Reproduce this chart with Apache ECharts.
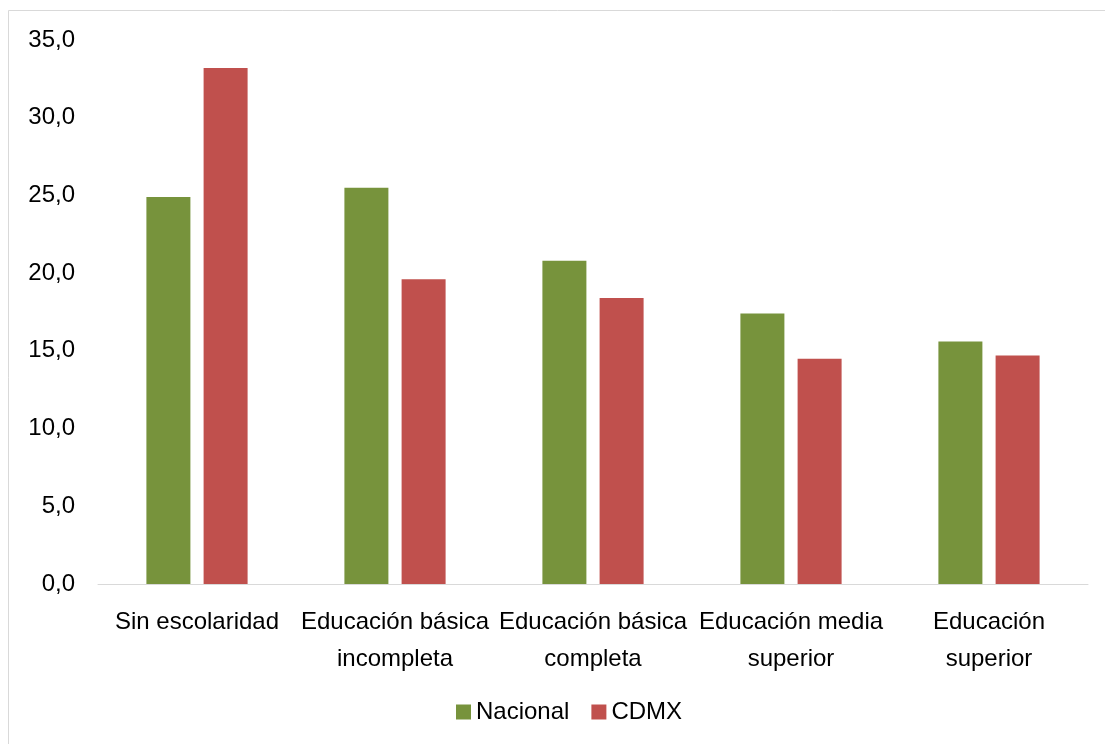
<!DOCTYPE html>
<html>
<head>
<meta charset="utf-8">
<script src="https://cdn.jsdelivr.net/npm/echarts@6/dist/echarts.min.js"></script>
<style>
  html, body { margin: 0; padding: 0; background: #fff; }
  #chart { width: 1105px; height: 744px; }
</style>
</head>
<body>
<div id="chart"></div>
<script>
// Nivel de escolaridad
const categories = [
  'Sin escolaridad',
  'Educación básica\nincompleta',
  'Educación básica\ncompleta',
  'Educación media\nsuperior',
  'Educación\nsuperior'
];
const nacional = [24.9, 25.5, 20.8, 17.4, 15.6];
const cdmx = [33.2, 19.6, 18.4, 14.5, 14.7];
const seriesNames = ['Nacional', 'CDMX'];

const FONT = "'Liberation Sans', Arial, sans-serif";
const SIZE = 24;
const fmt = v => v.toFixed(1).replace('.', ',');

const chart = echarts.init(document.getElementById('chart'), null, { renderer: 'canvas' });
chart.setOption({
  animation: false,
  backgroundColor: '#ffffff',
  textStyle: { fontFamily: FONT },
  graphic: [{
    type: 'rect',
    shape: { x: 8.5, y: 10.5, width: 1200, height: 800 },
    style: { fill: 'none', stroke: '#d9d9d9', lineWidth: 1 },
    silent: true
  }],
  grid: { left: 98, right: 17, top: 40, bottom: 160 },
  legend: {
    data: seriesNames,
    left: 451,
    top: 695,
    itemWidth: 15,
    itemHeight: 15,
    itemGap: 22,
    icon: 'rect',
    textStyle: { fontFamily: FONT, fontSize: SIZE, color: '#000' }
  },
  xAxis: {
    type: 'category',
    data: categories,
    axisLine: { lineStyle: { color: '#d9d9d9', width: 1 } },
    axisTick: { show: false },
    axisLabel: {
      interval: 0,
      margin: 20,
      color: '#000',
      fontFamily: FONT,
      fontSize: SIZE,
      lineHeight: 37
    }
  },
  yAxis: {
    type: 'value',
    min: 0,
    max: 35,
    interval: 5,
    axisLine: { show: false },
    axisTick: { show: false },
    splitLine: { show: false },
    axisLabel: {
      margin: 23,
      color: '#000',
      fontFamily: FONT,
      fontSize: SIZE,
      formatter: fmt
    }
  },
  series: [
    {
      name: seriesNames[0],
      type: 'bar',
      data: nacional,
      barWidth: 44,
      barGap: '30%',
      itemStyle: { color: '#77933C' }
    },
    {
      name: seriesNames[1],
      type: 'bar',
      data: cdmx,
      barWidth: 44,
      itemStyle: { color: '#C0504D' }
    }
  ]
});
</script>
</body>
</html>
